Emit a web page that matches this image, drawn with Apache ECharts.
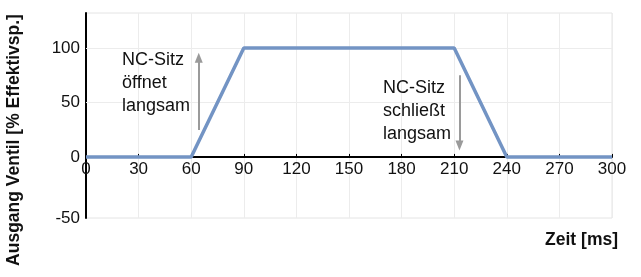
<!DOCTYPE html>
<html><head><meta charset="utf-8">
<script src="https://cdn.jsdelivr.net/npm/echarts@6/dist/echarts.min.js"></script>
<style>html,body{margin:0;padding:0;background:#fff}#c{width:641px;height:277px}</style>
</head><body><div id="c"></div>
<script>
const timeMs = [0, 60, 90, 210, 240, 300];
const ventil = [0, 0, 100, 100, 0, 0];
const xTicks = [0, 30, 60, 90, 120, 150, 180, 210, 240, 270, 300];
const yTickLabels = ['-50', '0', '50', '100'];
const yTickValues = [-56, 0, 50, 100];
const yGridValues = [50, 100];
const openText = 'NC-Sitz\nöffnet\nlangsam';
const closeText = 'NC-Sitz\nschließt\nlangsam';
const yName = 'Ausgang Ventil [% Effektivsp.]';
const xName = 'Zeit [ms]';

const font = 'Liberation Sans, Arimo, Helvetica, Arial, sans-serif';
const yMin = -56, yMax = 132;
const gridTop = 13, gridBottom = 59, H = 277;
const plotH = H - gridTop - gridBottom;
const zeroOffset = -plotH * (0 - yMin) / (yMax - yMin);
const chart = echarts.init(document.getElementById('c'));
const gray = '#9a9a9a';
chart.setOption({
  animation: false,
  grid: {left: 86, right: 29, top: gridTop, bottom: gridBottom, show: true, borderColor: '#e4e4e4', borderWidth: 1},
  xAxis: {type: 'value', min: 0, max: 300, interval: 30, position: 'bottom', offset: zeroOffset,
    axisLine: {onZero: false, lineStyle: {color: '#000', width: 2}},
    axisTick: {show: true, length: 3, inside: true, lineStyle: {color: '#000'}},
    axisLabel: {color: '#111', fontSize: 17, fontFamily: font, margin: 4,
      formatter: v => xTicks.includes(v) ? String(v) : ''},
    splitLine: {show: true, lineStyle: {color: '#ececec', width: 1}}},
  yAxis: {type: 'value', min: yMin, max: yMax,
    axisLine: {show: true, onZero: false, lineStyle: {color: '#000', width: 2}},
    axisTick: {show: false},
    axisLabel: {color: '#111', fontSize: 17, fontFamily: font, margin: 6,
      customValues: yTickValues,
      formatter: v => yTickLabels[yTickValues.indexOf(v)]},
    splitLine: {show: false}},
  series: [
    {type: 'line', data: timeMs.map((t, i) => [t, ventil[i]]), symbol: 'none', z: 5,
     lineStyle: {color: '#7394c4', width: 3.5},
     markLine: {silent: true, symbol: 'none', label: {show: false}, z: 1,
       lineStyle: {color: '#ececec', width: 1, type: 'solid'},
       data: yGridValues.map(v => ({yAxis: v}))}},
    {type: 'line', data: [], markLine: {silent: true, symbol: ['none', 'triangle'], symbolSize: [8, 10],
       label: {show: false}, lineStyle: {color: gray, width: 2, type: 'solid'},
       data: [
         [{coord: [64.3, 24.7]}, {coord: [64.3, 91]}],
         [{coord: [213, 75]}, {coord: [213, 10.5]}]
       ]}}
  ]
});
chart.setOption({graphic: [
  {type: 'text', x: 122, y: 49, z: 100, style: {text: openText, font: '18px ' + font, fill: '#111', lineHeight: 23}},
  {type: 'text', x: 383, y: 77, z: 100, style: {text: closeText, font: '18px ' + font, fill: '#111', lineHeight: 23}},
  {type: 'text', x: 14, y: 140, rotation: Math.PI / 2, z: 100,
   style: {text: yName, font: 'bold 17.5px ' + font, fill: '#111', align: 'center', verticalAlign: 'middle'}},
  {type: 'text', x: 618, y: 240, z: 100,
   style: {text: xName, font: 'bold 17.5px ' + font, fill: '#111', align: 'right', verticalAlign: 'middle'}}
]});
</script></body></html>
